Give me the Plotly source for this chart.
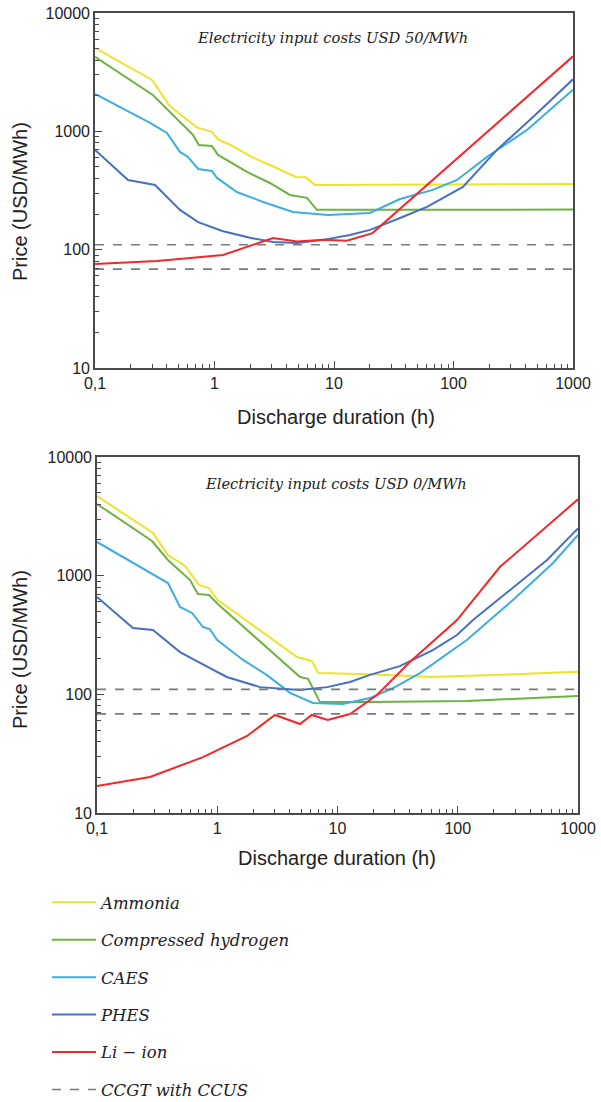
import plotly.graph_objects as go

# ---------------- data: top panel (electricity input USD 50/MWh) ----------------
amm_top_x = [0.1, 0.30, 0.42, 0.71, 0.95, 1.08, 1.35, 2.1, 3.3, 4.8, 5.8, 6.9, 1000]
amm_top_y = [5070, 2720, 1640, 1080, 990, 850, 770, 600, 490, 412, 410, 352, 358]

h2_top_x = [0.1, 0.305, 0.66, 0.74, 0.95, 1.07, 1.87, 2.91, 4.28, 5.94, 7.2, 1000]
h2_top_y = [4256, 2030, 933, 767, 753, 632, 454, 366, 290, 274, 217, 218]

caes_top_x = [0.1, 0.289, 0.40, 0.514, 0.60, 0.73, 0.95, 1.05, 1.54, 2.55, 4.54, 8.9, 20, 35.7, 67, 107, 191, 412, 1000]
caes_top_y = [2070, 1178, 969, 670, 608, 481, 463, 404, 307, 253, 208, 196, 204, 268, 320, 388, 608, 1028, 2250]

phes_top_x = [0.1, 0.189, 0.318, 0.514, 0.73, 1.16, 1.98, 3.09, 4.9, 8.1, 13.6, 20, 35.7, 60, 120, 231, 463, 1000]
phes_top_y = [697, 388, 352, 217, 171, 144, 126, 116, 114, 121, 133, 147, 185, 230, 339, 697, 1324, 2750]

li_top_x = [0.1, 0.33, 1.18, 3.09, 4.9, 8.1, 12.8, 21, 1000]
li_top_y = [75.7, 80.2, 90.2, 125.6, 117, 121, 119, 138, 4300]

# ---------------- data: bottom panel (electricity input USD 0/MWh) ----------------
amm_bot_x = [0.1, 0.292, 0.389, 0.54, 0.705, 0.854, 1.01, 4.6, 6.1, 6.9, 18.6, 62, 224, 1000]
amm_bot_y = [4690, 2290, 1493, 1206, 835, 787, 624, 206, 191, 151, 148, 140, 146, 155]

h2_bot_x = [0.1, 0.287, 0.389, 0.594, 0.69, 0.854, 1.01, 4.88, 5.7, 7.15, 18.6, 119, 423, 1000]
h2_bot_y = [4017, 1960, 1355, 919, 700, 687, 577, 140, 135, 86, 86, 88, 93, 97]

caes_bot_x = [0.1, 0.276, 0.389, 0.49, 0.617, 0.761, 0.865, 1.0, 1.64, 2.59, 4.03, 6.25, 11.1, 18.6, 29, 48.5, 91, 119, 185, 288, 620, 1000]
caes_bot_y = [1922, 1052, 867, 545, 485, 369, 355, 287, 195, 145, 103, 84.5, 83, 93, 113, 151, 236, 287, 423, 624, 1279, 2200]

phes_bot_x = [0.1, 0.199, 0.292, 0.49, 0.72, 1.2, 2.27, 4.88, 8.2, 12.7, 18.6, 33, 62, 98.6, 134, 272, 553, 1000]
phes_bot_y = [661, 362, 348, 227, 184, 140, 115, 109, 115, 127, 146, 173, 236, 316, 423, 757, 1355, 2500]

li_bot_x = [0.1, 0.276, 0.761, 1.77, 3.02, 4.88, 6.1, 8.3, 12.7, 21.3, 40, 98.6, 224, 1000]
li_bot_y = [16.9, 20.1, 29.6, 44.6, 67, 56.2, 67, 60.8, 68.3, 98.7, 187, 423, 1183, 4400]

# CCGT with CCUS reference levels
ccgt_x = [0.1, 1000]
ccgt_levels = [110, 68.5]

# tick labels
x_tickvals = [0.1, 1, 10, 100, 1000]
x_ticktext = ["0,1", "1", "10", "100", "1000"]
y_tickvals = [10, 100, 1000, 10000]
y_ticktext = ["10", "100", "1000", "10000"]

names = ["Ammonia", "Compressed hydrogen", "CAES", "PHES", "Li \u2212 ion"]
colors = ["#EDE42A", "#6CB43F", "#3DAEE2", "#4670C6", "#F2282A"]
ccgt_name = "CCGT with CCUS"
ccgt_color = "#7A7A7A"

top_series = [(amm_top_x, amm_top_y), (h2_top_x, h2_top_y), (caes_top_x, caes_top_y),
              (phes_top_x, phes_top_y), (li_top_x, li_top_y)]
bot_series = [(amm_bot_x, amm_bot_y), (h2_bot_x, h2_bot_y), (caes_bot_x, caes_bot_y),
              (phes_bot_x, phes_bot_y), (li_bot_x, li_bot_y)]

W, H = 601, 1102
fig = go.Figure()

for i, (name, col) in enumerate(zip(names, colors)):
    xs, ys = top_series[i]
    fig.add_trace(go.Scatter(x=xs, y=ys, mode="lines", name=name, legendgroup=name,
                             line=dict(color=col, width=2), xaxis="x", yaxis="y"))
    xs, ys = bot_series[i]
    fig.add_trace(go.Scatter(x=xs, y=ys, mode="lines", name=name, legendgroup=name, showlegend=False,
                             line=dict(color=col, width=2), xaxis="x2", yaxis="y2"))

first = True
for ax, ay in [("x", "y"), ("x2", "y2")]:
    for lvl in ccgt_levels:
        fig.add_trace(go.Scatter(x=ccgt_x, y=[lvl, lvl], mode="lines", name=ccgt_name,
                                 legendgroup=ccgt_name, showlegend=first,
                                 line=dict(color=ccgt_color, width=1.6, dash="dash"),
                                 xaxis=ax, yaxis=ay))
        first = False

minor_x = [k * 10 ** e for e in range(-1, 3) for k in range(2, 10)]
minor_y = [k * 10 ** e for e in range(1, 4) for k in range(2, 10)]

tickfont = dict(family="Liberation Sans, Arial", size=16, color="#222")
line_col = "#4a4a4a"

def xaxis_cfg(dom, anchor):
    return dict(type="log", range=[-1, 3], domain=dom, anchor=anchor, automargin=False,
                tickmode="array", tickvals=x_tickvals, ticktext=x_ticktext,
                ticks="inside", ticklen=7, tickwidth=1.3, tickcolor=line_col,
                showline=True, linecolor=line_col, linewidth=1.6, mirror=True,
                showgrid=False, zeroline=False, tickfont=tickfont,
                minor=dict(tickmode="array", tickvals=minor_x, ticks="inside", ticklen=4,
                           tickwidth=1.2, tickcolor=line_col, showgrid=False))

def yaxis_cfg(dom, anchor):
    return dict(type="log", range=[1, 4], domain=dom, anchor=anchor, automargin=False,
                tickmode="array", tickvals=y_tickvals, ticktext=y_ticktext,
                ticks="inside", ticklen=7, tickwidth=1.3, tickcolor=line_col,
                showline=True, linecolor=line_col, linewidth=1.6, mirror=True,
                showgrid=False, zeroline=False, tickfont=tickfont,
                minor=dict(tickmode="array", tickvals=minor_y, ticks="inside", ticklen=4,
                           tickwidth=1.2, tickcolor=line_col, showgrid=False))

fig.update_layout(
    width=W, height=H,
    margin=dict(l=0, r=0, t=0, b=0, autoexpand=False),
    paper_bgcolor="white", plot_bgcolor="white",
    xaxis=xaxis_cfg([95 / W, 573 / W], "y"),
    yaxis=yaxis_cfg([1 - 368 / H, 1 - 13 / H], "x"),
    xaxis2=xaxis_cfg([97 / W, 578 / W], "y2"),
    yaxis2=yaxis_cfg([1 - 813 / H, 1 - 457 / H], "x2"),
    legend=dict(x=47 / W, y=1 - 885 / H, xanchor="left", yanchor="top",
                font=dict(family="DejaVu Serif", size=16.5, color="#222", style="italic"),
                tracegroupgap=13, itemwidth=44, bgcolor="rgba(0,0,0,0)", traceorder="grouped"),
    showlegend=True,
)

ann_title_font = dict(family="Liberation Sans, Arial", size=20, color="#222")
ann_sub_font = dict(family="DejaVu Serif", size=14.7, color="#222", style="italic")
annotations = [
    dict(text="Discharge duration (h)", x=336 / W, y=1 - 417 / H, xref="paper", yref="paper",
         showarrow=False, font=ann_title_font, xanchor="center", yanchor="middle"),
    dict(text="Discharge duration (h)", x=337 / W, y=1 - 858 / H, xref="paper", yref="paper",
         showarrow=False, font=ann_title_font, xanchor="center", yanchor="middle"),
    dict(text="Price (USD/MWh)", x=20 / W, y=1 - 202 / H, xref="paper", yref="paper",
         showarrow=False, font=ann_title_font, textangle=-90, xanchor="center", yanchor="middle"),
    dict(text="Price (USD/MWh)", x=20 / W, y=1 - 650 / H, xref="paper", yref="paper",
         showarrow=False, font=ann_title_font, textangle=-90, xanchor="center", yanchor="middle"),
    dict(text="Electricity input costs USD 50/MWh", x=333 / W, y=1 - 37 / H, xref="paper", yref="paper",
         showarrow=False, font=ann_sub_font, xanchor="center", yanchor="middle"),
    dict(text="Electricity input costs USD 0/MWh", x=336 / W, y=1 - 483 / H, xref="paper", yref="paper",
         showarrow=False, font=ann_sub_font, xanchor="center", yanchor="middle"),
]
fig.update_layout(annotations=annotations)

fig.write_html("out.html")
